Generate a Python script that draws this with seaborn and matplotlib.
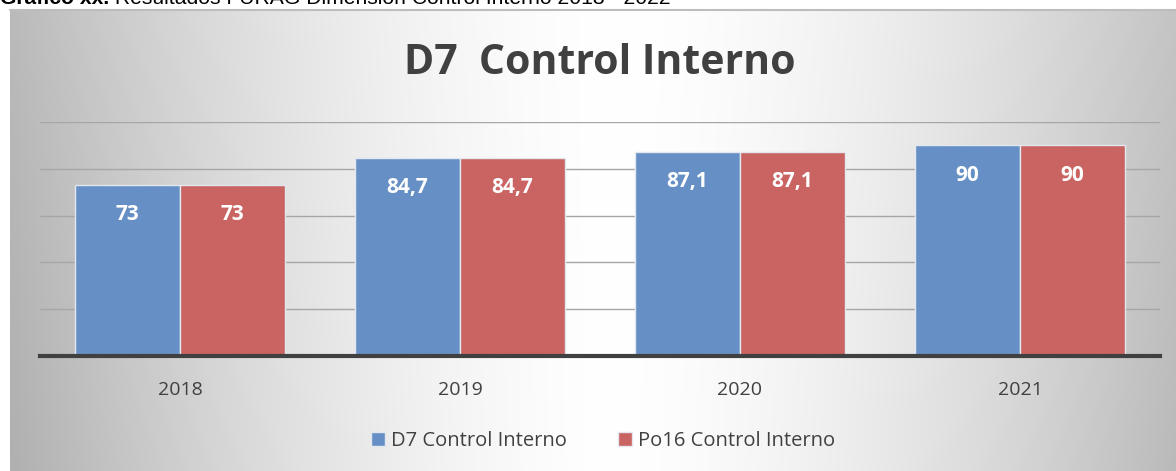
import numpy as np
import pandas as pd
import matplotlib
matplotlib.use("Agg")
import matplotlib.pyplot as plt
import seaborn as sns

years = ["2018", "2019", "2020", "2021"]
d7_values = [73, 84.7, 87.1, 90]
po16_values = [73, 84.7, 87.1, 90]
series_names = ["D7 Control Interno", "Po16 Control Interno"]
title_text = "D7  Control Interno"
caption_bold = "Gráfico xx."
caption_rest = " Resultados FURAG Dimensión Control Interno 2018 - 2022"

sns.set_theme(style="white")
plt.rcParams["font.family"] = ["Open Sans", "DejaVu Sans"]

W, H = 1176, 471
fig = plt.figure(figsize=(W / 100, H / 100), dpi=100)
fig.patch.set_facecolor("white")

# background gradient of the chart area
bg = fig.add_axes([10 / W, 0, (W - 10) / W, (H - 10) / H])
xx = np.linspace(-1, 1, 600)
yy = np.linspace(0, 1, 250)
X, Y = np.meshgrid(xx, yy)
v = 1 - 0.25 * np.abs(X - 0.05) ** 1.6 - 0.04 * (1 - Y) * np.abs(X)
img = np.dstack([v, v, v])
bg.imshow(img, aspect="auto", extent=[0, 1, 0, 1], origin="lower", interpolation="bilinear")
bg.set_axis_off()
bg.plot([0, 1], [1, 1], color="#BDBDBD", lw=1.5, transform=bg.transAxes, clip_on=False)

# main axes
left, right = 40, 1160
top, bottom = 122, 356
ax = fig.add_axes([left / W, 1 - bottom / H, (right - left) / W, (bottom - top) / H])
ax.set_facecolor("none")

df = pd.DataFrame({
    "year": years * 2,
    "value": d7_values + po16_values,
    "serie": [series_names[0]] * len(years) + [series_names[1]] * len(years),
})
palette = {series_names[0]: "#6690C5", series_names[1]: "#C96462"}
sns.barplot(data=df, x="year", y="value", hue="serie", palette=palette,
            width=0.75, saturation=1, edgecolor="#E4E8EE", linewidth=1,
            ax=ax, legend=True, zorder=3)

ax.set_ylim(0, 100)
ax.set_xlim(-0.5, len(years) - 0.5)
ax.set_yticks([20, 40, 60, 80, 100])
ax.yaxis.grid(True, color="#A6A6A6", lw=1)
ax.set_axisbelow(True)
ax.tick_params(axis="y", left=False, labelleft=False)
ax.tick_params(axis="x", bottom=False, labelsize=14, labelcolor="#404040", pad=12)
for s in ["top", "right", "left"]:
    ax.spines[s].set_visible(False)
ax.spines["bottom"].set_color("#404040")
ax.spines["bottom"].set_linewidth(3)
ax.spines["bottom"].set_zorder(5)
ax.set_xlabel("")
ax.set_ylabel("")

for cont in ax.containers:
    ax.bar_label(cont, fmt=lambda v: f"{v:g}".replace(".", ","), label_type="edge",
                 padding=-29, color="white", fontsize=15, fontweight="bold", zorder=6)

handles, labels = ax.get_legend_handles_labels()
ax.legend_.remove()
fig.legend(handles, labels, loc="center", bbox_to_anchor=(603 / W, 1 - 441 / H),
           ncol=2, frameon=False, fontsize=14.5, handlelength=0.7, handleheight=0.7,
           handletextpad=0.3, columnspacing=2.5, labelcolor="#404040")

fig.text(600 / W, 1 - 63 / H, title_text, ha="center", va="center",
         fontsize=29.5, fontweight="bold", color="#404040")

# caption cut at the top
t1 = fig.text(0, 1 - 4 / H, caption_bold, ha="left", va="baseline",
              fontsize=15.2, fontweight="bold", color="black", family=["Liberation Sans"])
fig.canvas.draw()
bb = t1.get_window_extent()
fig.text(bb.x1 / W, 1 - 4 / H, caption_rest, ha="left", va="baseline",
         fontsize=15.2, color="black", family=["Liberation Sans"])

fig.savefig("out.png", dpi=100)
